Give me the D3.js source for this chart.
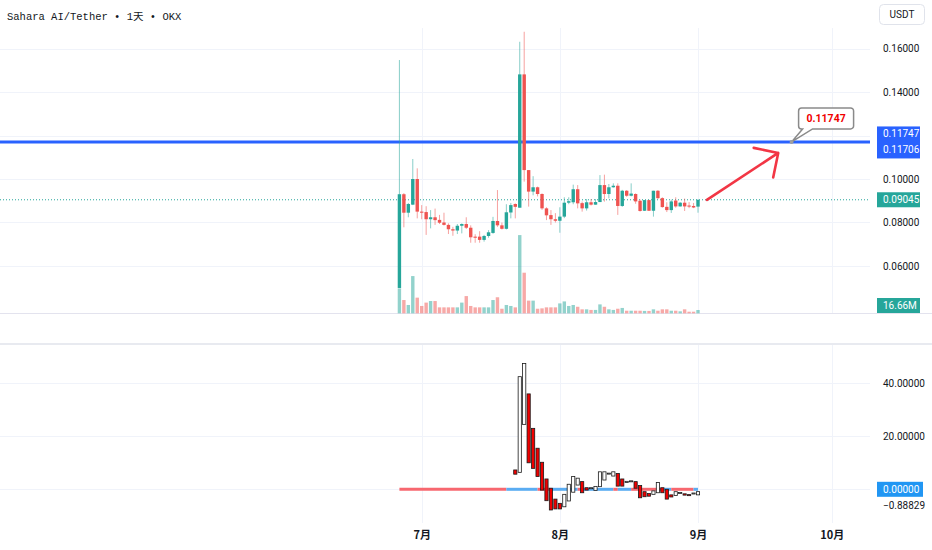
<!DOCTYPE html>
<html>
<head>
<meta charset="utf-8">
<script src="https://cdn.jsdelivr.net/npm/d3@7"></script>
<style>
body { margin: 0; background: #fff; }
svg { display: block; font-family: Roboto, "Noto Sans", sans-serif; }
</style>
</head>
<body>
<svg id="chart" width="932" height="550"></svg>
<script>
// daily candles, Jun 26 -> Sep 1 2025
var firstDay = "2025-06-26";
var opens = [0.0499,0.0930,0.0845,0.0882,0.1000,0.0850,0.0848,0.0815,0.0824,0.0812,
  0.0800,0.0789,0.0769,0.0763,0.0785,0.0793,0.0776,0.0735,0.0735,0.0720,
  0.0738,0.0752,0.0807,0.0787,0.0771,0.0846,0.0885,0.0868,0.1481,0.1041,
  0.0942,0.0962,0.0931,0.0865,0.0834,0.0815,0.0808,0.0827,0.0891,0.0893,
  0.0953,0.0889,0.0865,0.0893,0.0882,0.0894,0.0972,0.0931,0.0962,0.0969,
  0.0876,0.0946,0.0923,0.0931,0.0900,0.0854,0.0903,0.0854,0.0946,0.0912,
  0.0872,0.0857,0.0901,0.0874,0.0891,0.0878,0.0876,0.0873];
var highs = [0.1547,0.0935,0.0890,0.1092,0.1049,0.0880,0.0875,0.0857,0.0864,0.0835,
  0.0845,0.0796,0.0780,0.0793,0.0796,0.0824,0.0787,0.0746,0.0760,0.0743,
  0.0765,0.0826,0.0949,0.0800,0.0884,0.0890,0.0888,0.1631,0.1677,0.1041,
  0.1013,0.0965,0.0934,0.0870,0.0857,0.0843,0.0870,0.0916,0.0916,0.0974,
  0.0972,0.0896,0.0908,0.0908,0.0908,0.1018,0.1020,0.0977,0.0980,0.0980,
  0.0950,0.0949,0.0980,0.0934,0.0905,0.0903,0.0904,0.0946,0.0949,0.0916,
  0.0893,0.0905,0.0916,0.0894,0.0910,0.0894,0.0890,0.0905];
var lows = [0.0499,0.0778,0.0824,0.0880,0.0819,0.0815,0.0743,0.0773,0.0789,0.0793,
  0.0786,0.0747,0.0739,0.0747,0.0750,0.0770,0.0707,0.0707,0.0707,0.0712,
  0.0730,0.0748,0.0780,0.0768,0.0768,0.0819,0.0819,0.0868,0.0988,0.0873,
  0.0925,0.0920,0.0858,0.0811,0.0789,0.0800,0.0753,0.0820,0.0884,0.0884,
  0.0865,0.0850,0.0855,0.0878,0.0882,0.0894,0.0896,0.0911,0.0960,0.0835,
  0.0872,0.0918,0.0920,0.0886,0.0850,0.0853,0.0853,0.0827,0.0908,0.0868,
  0.0848,0.0844,0.0868,0.0873,0.0853,0.0866,0.0866,0.0845];
var closes = [0.0930,0.0845,0.0885,0.1000,0.0850,0.0845,0.0815,0.0824,0.0811,0.0799,
  0.0789,0.0769,0.0763,0.0785,0.0793,0.0776,0.0732,0.0730,0.0720,0.0738,
  0.0755,0.0807,0.0787,0.0771,0.0847,0.0880,0.0872,0.1481,0.1041,0.0942,
  0.0962,0.0931,0.0865,0.0833,0.0815,0.0808,0.0827,0.0891,0.0898,0.0953,
  0.0888,0.0865,0.0893,0.0882,0.0894,0.0972,0.0931,0.0962,0.0969,0.0876,
  0.0946,0.0923,0.0933,0.0897,0.0853,0.0903,0.0854,0.0946,0.0912,0.0871,
  0.0857,0.0897,0.0874,0.0891,0.0874,0.0873,0.0869,0.09045];
// volume in millions
var volumes = [126,67,42,188,79,37,54,62,62,30,
  30,30,30,30,54,87,37,30,30,30,
  30,67,81,23,42,37,30,395,205,64,
  64,23,25,30,30,30,50,60,37,42,
  33,20,20,17,17,45,33,20,17,23,
  27,13,13,13,13,12,12,20,13,20,
  20,13,13,10,20,8,8,16.66];

// lower pane oscillator (candle style), nothing before Jul 22
var oscOpen = [null,null,null,null,null,null,null,null,null,null,
  null,null,null,null,null,null,null,null,null,null,
  null,null,null,null,null,null,
  7.3,6.4,24.5,36.0,23.0,15.5,10.2,3.9,0.4,-3.7,
  -5.3,-6.6,-4.4,-1.1,1.6,2.9,0.6,0.4,-0.4,1.0,
  3.5,5.8,5.0,6.0,3.9,2.6,2.9,2.9,1.4,-0.9,
  -1.6,-1.9,-1.3,0.6,0.0,-2.1,-2.3,-1.4,-1.7,-2.0,
  -1.6,-2.1];
var oscClose = [null,null,null,null,null,null,null,null,null,null,
  null,null,null,null,null,null,null,null,null,null,
  null,null,null,null,null,null,
  5.7,42.5,47.5,10.0,7.9,4.8,-0.3,-4.3,-7.8,-7.4,
  -7.4,-1.9,1.9,4.8,4.2,-1.3,-0.3,0.6,1.1,6.6,
  6.6,6.1,6.6,1.2,1.2,3.0,3.2,0.4,-3.2,-2.8,
  -2.6,-0.6,2.6,-1.3,-3.7,-2.9,-0.9,-1.2,-2.2,-2.4,
  -1.4,-0.88829];
// colour of the zero line after each day: r = red, b = blue
var zeroLineColors = ("rrrrrrrrrrrrrrrrrrrrrrrr" + "bbbbbbb" + "rrr" + "bbbbbb" + "r" +
  "bbbbbbb" + "r" + "bbb" + "rrrrrrr" + "bb" + "rrrrr" + "bb").split("");

var priceTicks = [0.06, 0.08, 0.10, 0.12, 0.14, 0.16];
var oscTicks = [0, 20, 40];
var monthTicks = ["2025-07-01", "2025-08-01", "2025-09-01", "2025-10-01"];
var monthLabels = ["7月", "8月", "9月", "10月"];

var levelPrice = 0.11706;
var calloutPrice = 0.11747;
var calloutDay = "2025-09-22";
var arrowFrom = ["2025-09-03", 0.0904];
var arrowTo = ["2025-09-19", 0.1120];
var lastVolumeLabel = "16.66M";
var titleText = "Sahara AI/Tether • 1天 • OKX";

var UP = "#26a69a", DOWN = "#ef5350";
var paneRight = 870;

var parse = d3.timeParse("%Y-%m-%d");
var start = parse(firstDay);
var days = opens.map(function(d, i) { return d3.timeDay.offset(start, i); });
var candles = days.map(function(d, i) {
  return {date: d, o: opens[i], h: highs[i], l: lows[i], c: closes[i], v: volumes[i],
          oo: oscOpen[i], oc: oscClose[i], lc: zeroLineColors[i]};
});

var svg = d3.select("#chart");

var x = d3.scaleTime()
  .domain([parse(monthTicks[0]), parse(monthTicks[3])])
  .range([421.7, 831.7]);
var y = d3.scaleLinear().domain([0.06, 0.16]).range([266, 48.5]);
var yv = d3.scaleLinear().domain([0, 400]).range([313.3, 234.1]);
var yo = d3.scaleLinear().domain([0, 40]).range([489.3, 383.3]);

// title
svg.append("text")
  .attr("x", 7).attr("y", 20)
  .attr("font-family", "'Liberation Mono', 'Noto Sans CJK SC', monospace")
  .attr("font-size", 10.5)
  .attr("fill", "#131722")
  .text(titleText);

// grid
var grid = svg.append("g").attr("stroke", "#f0f3fa").attr("stroke-width", 1);
grid.selectAll(".hp").data(priceTicks).enter().append("line")
  .attr("x1", 0).attr("x2", paneRight)
  .attr("y1", function(d) { return Math.round(y(d)) + 0.5; })
  .attr("y2", function(d) { return Math.round(y(d)) + 0.5; });
grid.selectAll(".ho").data(oscTicks).enter().append("line")
  .attr("x1", 0).attr("x2", paneRight)
  .attr("y1", function(d) { return Math.round(yo(d)) + 0.5; })
  .attr("y2", function(d) { return Math.round(yo(d)) + 0.5; });
monthTicks.forEach(function(m) {
  var xx = Math.round(x(parse(m))) + 0.5;
  grid.append("line").attr("x1", xx).attr("x2", xx).attr("y1", 28).attr("y2", 313);
  grid.append("line").attr("x1", xx).attr("x2", xx).attr("y1", 345).attr("y2", 523);
});

// pane separators
svg.append("line").attr("x1", 0).attr("x2", 932).attr("y1", 313.5).attr("y2", 313.5)
  .attr("stroke", "#e3e3ee");
svg.append("line").attr("x1", 0).attr("x2", 932).attr("y1", 344).attr("y2", 344)
  .attr("stroke", "#e0e3eb").attr("stroke-width", 1.5);

// volume
svg.append("g").selectAll("rect").data(candles).enter().append("rect")
  .attr("x", function(d) { return x(d.date) - 1.7; })
  .attr("width", 3.4)
  .attr("y", function(d) { return yv(d.v); })
  .attr("height", function(d) { return yv(0) - yv(d.v); })
  .attr("fill", function(d) { return d.c >= d.o ? UP : DOWN; })
  .attr("fill-opacity", 0.5);

// price level + last price line
svg.append("line").attr("x1", 0).attr("x2", paneRight)
  .attr("y1", y(levelPrice)).attr("y2", y(levelPrice))
  .attr("stroke", "#2962ff").attr("stroke-width", 3);
svg.append("line").attr("x1", 0).attr("x2", paneRight)
  .attr("y1", y(closes[closes.length - 1])).attr("y2", y(closes[closes.length - 1]))
  .attr("stroke", UP).attr("stroke-dasharray", "1,2");

// candles
var cg = svg.append("g");
cg.selectAll("line").data(candles).enter().append("line")
  .attr("x1", function(d) { return x(d.date); })
  .attr("x2", function(d) { return x(d.date); })
  .attr("y1", function(d) { return y(d.h); })
  .attr("y2", function(d) { return y(d.l); })
  .attr("stroke", function(d) { return d.c >= d.o ? UP : DOWN; })
  .attr("stroke-opacity", 0.55)
  .attr("stroke-width", 1);
cg.selectAll("rect").data(candles).enter().append("rect")
  .attr("x", function(d) { return x(d.date) - 1.7; })
  .attr("width", 3.4)
  .attr("y", function(d) { return y(Math.max(d.o, d.c)); })
  .attr("height", function(d) { return Math.max(1, Math.abs(y(d.o) - y(d.c))); })
  .attr("fill", function(d) { return d.c >= d.o ? UP : DOWN; });

// zero line in lower pane, one path per run of the same colour
var runs = [];
candles.forEach(function(d, i) {
  if (i == candles.length - 1) return;
  var last = runs[runs.length - 1];
  if (last && last.c == d.lc) last.to = i + 1;
  else runs.push({c: d.lc, from: i, to: i + 1});
});
svg.append("g").selectAll("line").data(runs).enter().append("line")
  .attr("x1", function(r) { return x(days[r.from]); })
  .attr("x2", function(r) { return x(days[r.to]); })
  .attr("y1", yo(0)).attr("y2", yo(0))
  .attr("stroke-width", 3)
  .attr("stroke", function(r) { return r.c == "r" ? "#f7676f" : "#5aacf2"; });

// oscillator boxes
var osc = candles.filter(function(d) { return d.oo != null; });
svg.append("g").selectAll("rect").data(osc).enter().append("rect")
  .attr("x", function(d) { return x(d.date) - 1.6; })
  .attr("width", 3.2)
  .attr("y", function(d) { return yo(Math.max(d.oo, d.oc)); })
  .attr("height", function(d) { return Math.max(1, Math.abs(yo(d.oo) - yo(d.oc))); })
  .attr("fill", function(d) { return d.oc >= d.oo ? "#fff" : "#f00000"; })
  .attr("stroke", "#1a1a1a")
  .attr("stroke-width", 0.8);

// red arrow annotation
var ax1 = x(parse(arrowFrom[0])), ay1 = y(arrowFrom[1]);
var ax2 = x(parse(arrowTo[0])), ay2 = y(arrowTo[1]);
var ang = Math.atan2(ay1 - ay2, ax1 - ax2);
var headLen = 25, spread = Math.PI / 4;
var arrowPath = d3.path();
arrowPath.moveTo(ax1, ay1);
arrowPath.lineTo(ax2, ay2);
arrowPath.moveTo(ax2 + headLen * Math.cos(ang - spread), ay2 + headLen * Math.sin(ang - spread));
arrowPath.lineTo(ax2, ay2);
arrowPath.lineTo(ax2 + headLen * Math.cos(ang + spread), ay2 + headLen * Math.sin(ang + spread));
svg.append("path").attr("d", arrowPath.toString())
  .attr("fill", "none").attr("stroke", "#f23645")
  .attr("stroke-width", 2.6).attr("stroke-linecap", "round").attr("stroke-linejoin", "round");

// callout
var tx = x(parse(calloutDay)), ty = y(levelPrice);
var bx = tx + 7, by = ty - 34, bw = 55, bh = 21, r = 3;
var cp = d3.path();
cp.moveTo(bx + r, by);
cp.lineTo(bx + bw - r, by);
cp.arcTo(bx + bw, by, bx + bw, by + r, r);
cp.lineTo(bx + bw, by + bh - r);
cp.arcTo(bx + bw, by + bh, bx + bw - r, by + bh, r);
cp.lineTo(bx + 14, by + bh);
cp.lineTo(tx, ty);
cp.lineTo(bx + 4, by + bh);
cp.lineTo(bx + r, by + bh);
cp.arcTo(bx, by + bh, bx, by + bh - r, r);
cp.lineTo(bx, by + r);
cp.arcTo(bx, by, bx + r, by, r);
cp.closePath();
svg.append("path").attr("d", cp.toString())
  .attr("fill", "#fff").attr("stroke", "#8a8a8a").attr("stroke-width", 1.5);
svg.append("circle").attr("cx", tx).attr("cy", ty).attr("r", 2)
  .attr("fill", "#9e9e9e");
svg.append("text")
  .attr("x", bx + bw / 2).attr("y", by + bh / 2 + 3.5)
  .attr("text-anchor", "middle")
  .attr("font-size", 10.5).attr("font-weight", "bold")
  .attr("fill", "#f00000")
  .text(d3.format(".5f")(calloutPrice));

// right price axis
var pAxis = d3.axisRight(y).tickValues(priceTicks).tickFormat(d3.format(".5f"))
  .tickSize(0).tickPadding(0);
svg.append("g").attr("transform", "translate(883,0)").call(pAxis)
  .call(function(g) { g.select(".domain").remove(); })
  .selectAll("text").attr("font-size", 10).attr("fill", "#131722")
  .attr("font-family", "Roboto, 'Noto Sans', sans-serif");

var oAxis = d3.axisRight(yo).tickValues([20, 40]).tickFormat(d3.format(".5f"))
  .tickSize(0).tickPadding(0);
svg.append("g").attr("transform", "translate(883,0)").call(oAxis)
  .call(function(g) { g.select(".domain").remove(); })
  .selectAll("text").attr("font-size", 10).attr("fill", "#131722")
  .attr("font-family", "Roboto, 'Noto Sans', sans-serif");

// time axis
var tAxis = d3.axisBottom(x).tickValues(monthTicks.map(parse))
  .tickFormat(function(d, i) { return monthLabels[i]; })
  .tickSize(0).tickPadding(0);
svg.append("g").attr("transform", "translate(0,531)").call(tAxis)
  .call(function(g) { g.select(".domain").remove(); })
  .selectAll("text").attr("font-size", 11).attr("font-weight", "bold")
  .attr("fill", "#131722")
  .attr("font-family", "'Noto Sans CJK SC', sans-serif");

// axis labels in boxes
function label(yc, h, color, lines, w) {
  var g = svg.append("g");
  g.append("rect").attr("x", 877).attr("y", yc - h / 2).attr("width", w || 43).attr("height", h)
    .attr("fill", color);
  lines.forEach(function(t, i) {
    g.append("text").attr("x", 883).attr("y", yc - h / 2 + 11 + i * 15.5)
      .attr("font-size", 10).attr("fill", "#fff").text(t);
  });
}
label((y(calloutPrice) + y(levelPrice)) / 2 + 1, 32, "#2962ff",
  [d3.format(".5f")(calloutPrice), d3.format(".5f")(levelPrice)]);
label(y(closes[closes.length - 1]), 15, UP, [d3.format(".5f")(closes[closes.length - 1])]);
label(305.5, 15, UP, [lastVolumeLabel]);
label(yo(0), 15, "#2196f3", [d3.format(".5f")(0)], 46);
svg.append("text").attr("x", 883).attr("y", 509)
  .attr("font-size", 10).attr("fill", "#131722")
  .text(d3.format(".5f")(oscClose[oscClose.length - 1]));

// currency box
svg.append("rect").attr("x", 879.5).attr("y", 4.5).attr("width", 45).attr("height", 20)
  .attr("rx", 4).attr("fill", "#fff").attr("stroke", "#e0e3eb");
svg.append("text").attr("x", 902).attr("y", 18).attr("text-anchor", "middle")
  .attr("font-size", 10).attr("fill", "#131722").text("USDT");
</script>
</body>
</html>
